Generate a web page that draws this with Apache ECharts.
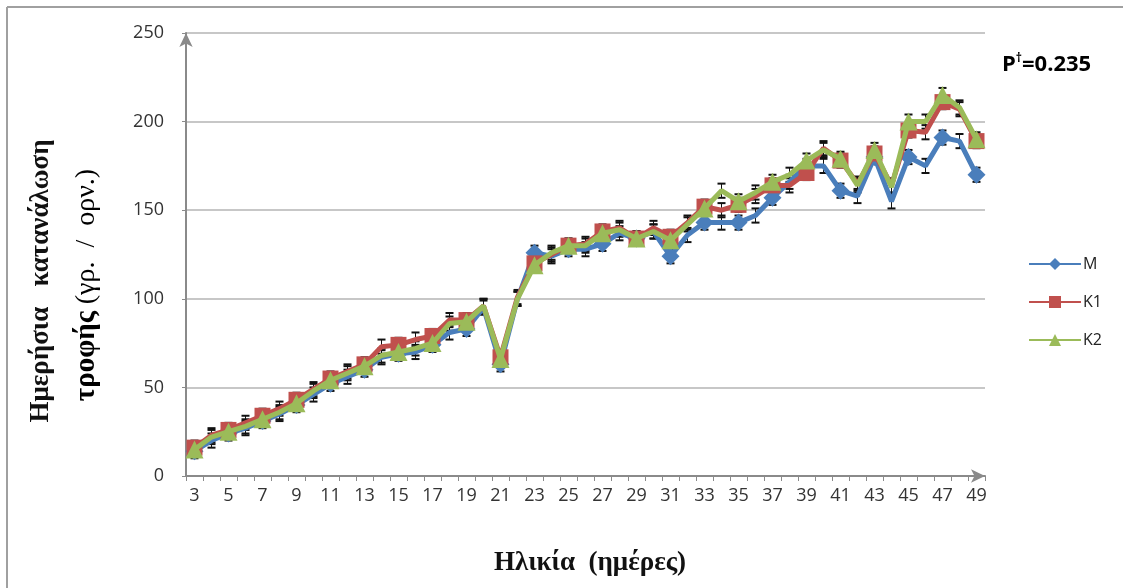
<!DOCTYPE html>
<html><head><meta charset="utf-8">
<script src="https://cdn.jsdelivr.net/npm/echarts@6/dist/echarts.min.js"></script>
<style>html,body{margin:0;padding:0;background:#fff}#c{width:1123px;height:588px}</style>
</head><body><div id="c"></div>
<script>
const days = [3,4,5,6,7,8,9,10,11,12,13,14,15,16,17,18,19,20,21,22,23,24,25,26,27,28,29,30,31,32,33,34,35,36,37,38,39,40,41,42,43,44,45,46,47,48,49];
const seriesM  = [14,20,24,27,31,35,40,46,52,56,60,67,69,70,74,81,83,95,63,100,126,124,128,128,131,137,134,138,124,136,143,143,143,147,157,166,175,175,161,158,180,155,180,175,191,189,170];
const seriesK1 = [16,23,26,30,34,38,43,49,55,59,63,73,74,77,79,88,88,96,67,101,120,125,130,131,138,140,134,140,135,143,152,150,153,158,164,164,171,185,178,165,182,164,195,194,211,207,189];
const seriesK2 = [15,22,25,28,32,36,41,48,54,58,62,68,70,72,75,86,87,96,66,100,119,126,130,130,137,139,134,138,133,142,151,161,155,160,166,170,178,184,179,164,184,163,200,200,215,208,190];
const errHalf = 4; // estimated half-length of the error bars
const yTicks = [0,50,100,150,200,250];

const chart = echarts.init(document.getElementById('c'));
const errData = s => s.map((v,i)=>[i, v-errHalf, v+errHalf]);
function errSeries(vals, z){
  return {type:'custom', z:z, silent:true, data: errData(vals),
    renderItem:(params, api)=>{
      const lo = api.coord([api.value(0), api.value(1)]);
      const hi = api.coord([api.value(0), api.value(2)]);
      const w = 4;
      const st = {stroke:'#111', lineWidth:2};
      return {type:'group', children:[
        {type:'line', shape:{x1:lo[0],y1:lo[1],x2:hi[0],y2:hi[1]}, style:{stroke:'#111',lineWidth:1}},
        {type:'line', shape:{x1:lo[0]-w,y1:lo[1],x2:lo[0]+w,y2:lo[1]}, style:st},
        {type:'line', shape:{x1:hi[0]-w,y1:hi[1],x2:hi[0]+w,y2:hi[1]}, style:st}
      ]};
    }};
}
const cM='#4A7EBB', cK1='#C0504D', cK2='#9BBB59';
chart.setOption({
  animation:false,
  backgroundColor:'#fff',
  grid:{left:186, right:138, top:33, bottom:112},
  xAxis:{type:'category', data:days.map(String), boundaryGap:true,
    axisLine:{lineStyle:{color:'#8a8a8a', width:2}, symbol:['none','arrow'], symbolSize:[10,14], symbolOffset:[0,0]},
    axisTick:{show:true, interval:0, length:5, lineStyle:{color:'#8a8a8a', width:1}},
    axisLabel:{interval:1, color:'#333', fontSize:18, fontFamily:'Open Sans', margin:11},
    splitLine:{show:false}},
  yAxis:{type:'value', min:yTicks[0], max:yTicks[yTicks.length-1], interval:50,
    axisLine:{show:true, lineStyle:{color:'#8a8a8a', width:2}, symbol:['none','arrow'], symbolSize:[10,14], symbolOffset:[0,0]},
    axisTick:{show:true, length:4, lineStyle:{color:'#8a8a8a'}},
    axisLabel:{color:'#333', fontSize:18, fontFamily:'Open Sans', margin:22},
    splitLine:{lineStyle:{color:'#b4b4b4', width:1.5}}},
  legend:{orient:'vertical', left:1023, top:251, itemWidth:52, itemHeight:15, itemGap:22,
    textStyle:{fontSize:16, color:'#222', fontFamily:'Open Sans', padding:[0,0,0,-3]},
    data:['M','K1','K2']},
  series:[
    errSeries(seriesM,1), errSeries(seriesK1,1), errSeries(seriesK2,1),
    {name:'M', type:'line', data:seriesM, z:3, symbol:'diamond', symbolSize:18, color:cM,
      lineStyle:{width:5, color:cM}, itemStyle:{color:cM}},
    {name:'K1', type:'line', data:seriesK1, z:4, symbol:'rect', symbolSize:16, color:cK1,
      lineStyle:{width:5, color:cK1}, itemStyle:{color:cK1}},
    {name:'K2', type:'line', data:seriesK2, z:5, symbol:'triangle', symbolSize:18, color:cK2,
      lineStyle:{width:5, color:cK2}, itemStyle:{color:cK2}}
  ],
  graphic:[
    {type:'line', z:-10, shape:{x1:7, y1:7, x2:1123, y2:7}, style:{stroke:'#a0a0a0', lineWidth:2}},
    {type:'line', z:-10, shape:{x1:7, y1:7, x2:7, y2:588}, style:{stroke:'#a0a0a0', lineWidth:2}},
    {type:'text', x:41, y:281, rotation:Math.PI/2,
      style:{text:'Ημερήσια   κατανάλωση', x:0, y:0, textAlign:'center', textVerticalAlign:'middle', align:'center', verticalAlign:'middle',
        font:'bold 27px "Liberation Serif"', fill:'#111'}},
    {type:'text', x:87, y:285, rotation:Math.PI/2,
      style:{text:'{b|τροφής}  {r|(γρ.  /  ορν.)}', x:0, y:0, textAlign:'center', textVerticalAlign:'middle', align:'center', verticalAlign:'middle',
        rich:{b:{fontWeight:'bold', fontSize:29, fontFamily:'Liberation Serif', color:'#111'},
              r:{fontSize:28, fontFamily:'Liberation Serif', color:'#111', fontWeight:'normal'}}}},
    {type:'text', x:590, y:563,
      style:{text:'Ηλικία  (ημέρες)', x:0, y:0, textAlign:'center', textVerticalAlign:'middle', align:'center', verticalAlign:'middle',
        font:'bold 27px "Liberation Serif"', fill:'#111'}},
    {type:'text', x:1002, y:65,
      style:{text:'{p|P}{s|†}{p|=0.235}', x:0, y:0, textVerticalAlign:'middle', verticalAlign:'middle',
        rich:{p:{fontSize:22, fontWeight:'bold', fontFamily:'Open Sans', color:'#111'},
              s:{fontSize:12, fontWeight:'bold', fontFamily:'Open Sans', color:'#111', verticalAlign:'top', padding:[0,0,12,0]}}}}
  ]
});
</script></body></html>
